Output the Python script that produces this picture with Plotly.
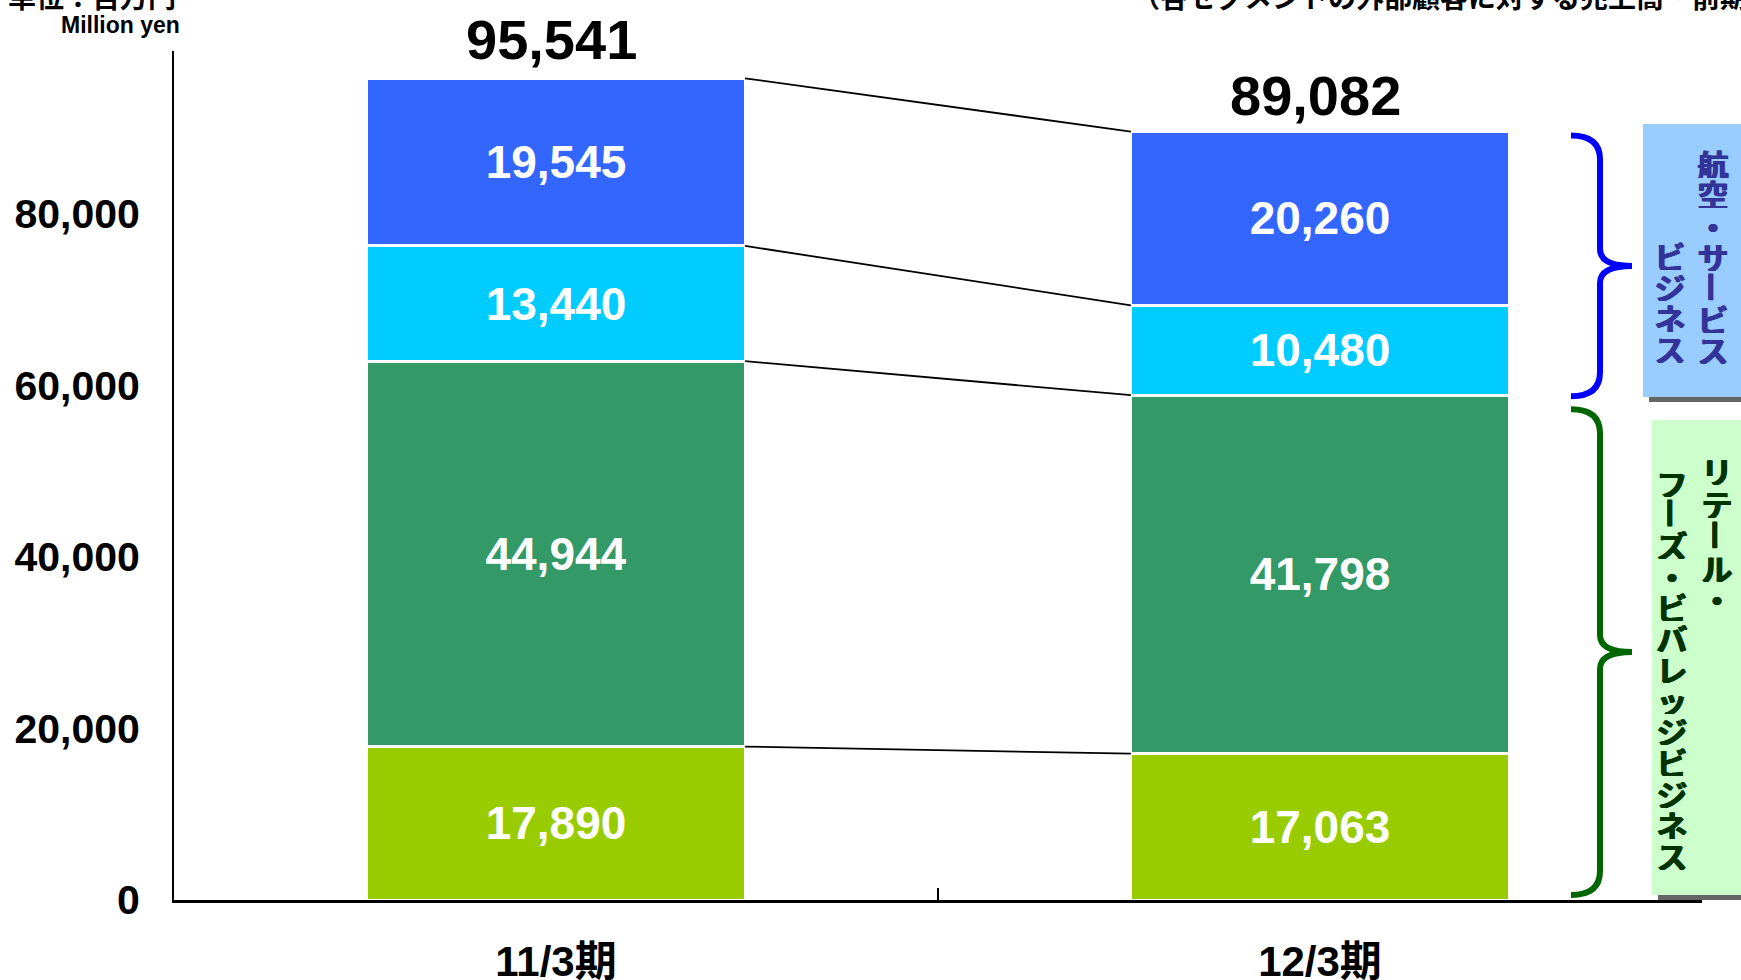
import plotly.graph_objects as go

# data
periods = ["11/3期", "12/3期"]
segment_names = ["フーズ・ビバレッジ", "リテール", "サービス", "航空"]
retail_food = [17890, 17063]
retail = [44944, 41798]
service = [13440, 10480]
airline = [19545, 20260]
totals = [95541, 89082]

colors = ["#99CC00", "#339966", "#00CCFF", "#3366FF"]
series = [retail_food, retail, service, airline]

W, H = 1741, 980
PLOT_L, PLOT_W = 174, 1528
PLOT_T, PLOT_H = 51, 849
Y_MAX = 99000
BAR_W = 0.495


def px_x(p):
    return (p - PLOT_L) / PLOT_W


def px_y(p):
    return (PLOT_T + PLOT_H - p) / PLOT_H


def px_units(p):
    return p * Y_MAX / PLOT_H


NUM_FONT = "Liberation Sans, Arial, Noto Sans CJK JP"
JP_FONT = "Noto Sans CJK JP, Liberation Sans"

fig = go.Figure()

for name, vals, col in zip(segment_names, series, colors):
    fig.add_trace(go.Bar(
        x=[0, 1], y=vals, name=name, width=BAR_W,
        marker=dict(color=col, line=dict(color="white", width=3)),
        text=["{:,}".format(v) for v in vals],
        textposition="inside", insidetextanchor="middle", textangle=0,
        textfont=dict(family=NUM_FONT, size=46, color="white", weight="bold"),
        hoverinfo="name+y",
    ))

# connector lines between stacked boundaries
cum = [[0, 0]]
for vals in series:
    cum.append([cum[-1][0] + vals[0], cum[-1][1] + vals[1]])
for level in cum[1:]:
    fig.add_trace(go.Scatter(
        x=[BAR_W / 2, 1 - BAR_W / 2], y=level, mode="lines",
        line=dict(color="black", width=1.8), hoverinfo="skip",
    ))

annotations = []
for i, t in enumerate(totals):
    annotations.append(dict(x=i, y=t, xref="x", yref="y", text="{:,}".format(t),
                            showarrow=False, yanchor="middle", yshift=41, xshift=-5,
                            font=dict(family=NUM_FONT, size=56, color="black", weight="bold")))

annotations.append(dict(xref="paper", yref="paper", x=px_x(182), y=px_y(25),
                        xanchor="right", yanchor="middle", text="Million yen", showarrow=False,
                        font=dict(family=NUM_FONT, size=23, color="black", weight="bold")))
# header texts, cut at the top edge
annotations.append(dict(xref="paper", yref="paper", x=px_x(178), y=px_y(18),
                        xanchor="right", yanchor="bottom", text="単位：百万円", showarrow=False,
                        font=dict(family=JP_FONT, size=28, color="black", weight="bold")))
annotations.append(dict(xref="paper", yref="paper", x=px_x(1130), y=px_y(18),
                        xanchor="left", yanchor="bottom",
                        text="（各セグメントの外部顧客に対する売上高・前期比較）", showarrow=False,
                        font=dict(family=JP_FONT, size=28, color="black", weight="bold")))

shapes = []


def brace(y_top, y_bot, color):
    x0, xs, xm = px_x(1571), px_x(1600), px_x(1632)
    r1, r2 = px_units(24), px_units(17)
    ym = (y_top + y_bot) / 2
    path = (f"M {x0},{y_top} Q {xs},{y_top} {xs},{y_top - r1} "
            f"L {xs},{ym + r2} Q {xs},{ym} {xm},{ym} "
            f"Q {xs},{ym} {xs},{ym - r2} "
            f"L {xs},{y_bot + r1} Q {xs},{y_bot} {x0},{y_bot}")
    return dict(type="path", xref="paper", yref="y", path=path,
                line=dict(color=color, width=6))


shapes.append(brace(cum[4][1] - px_units(4), cum[2][1] - px_units(1), "#0000FF"))
shapes.append(brace(cum[2][1] - px_units(14), px_units(5), "#006600"))


def label_box(x0, y0, y1, fill, text_color, columns):
    shapes.append(dict(type="rect", xref="paper", yref="paper", layer="above",
                       x0=px_x(x0 + 6), x1=px_x(1760), y0=px_y(y1 + 5), y1=px_y(y0 + 6),
                       fillcolor="#666666", line=dict(width=0)))
    shapes.append(dict(type="rect", xref="paper", yref="paper", layer="above",
                       x0=px_x(x0), x1=px_x(1760), y0=px_y(y1), y1=px_y(y0),
                       fillcolor=fill, line=dict(width=0)))
    for cx, start, pitch, chars in columns:
        for k, ch in enumerate(chars):
            annotations.append(dict(
                xref="paper", yref="paper", x=px_x(cx), y=px_y(start + k * pitch),
                xanchor="center", yanchor="middle", text=ch, showarrow=False,
                width=36, height=29,
                textangle=90 if ch == "ー" else 0,
                font=dict(family=JP_FONT, size=31, color=text_color, weight="bold",
                          shadow=f"0.8px 0 0 {text_color}, -0.8px 0 0 {text_color}")))


label_box(1643, 124, 397, "#99CCFF", "#333399",
          [(1713, 163, 31, "航空・サービス"), (1670, 255, 31, "ビジネス")])
label_box(1652, 420, 895, "#CCFFCC", "#003300",
          [(1717, 471, 32, "リテール・"), (1672, 482, 31.1, "フーズ・ビバレッジビジネス")])

fig.update_layout(
    barmode="stack",
    width=W, height=H,
    margin=dict(l=PLOT_L, r=W - PLOT_L - PLOT_W, t=PLOT_T, b=H - PLOT_T - PLOT_H, autoexpand=False),
    plot_bgcolor="white", paper_bgcolor="white",
    showlegend=False,
    xaxis=dict(
        range=[-0.5, 1.5], tickmode="array", tickvals=[0, 1], ticktext=periods,
        showline=True, linecolor="black", linewidth=2.5, showgrid=False, zeroline=False,
        ticks="", ticklabelstandoff=23,
        tickfont=dict(family=NUM_FONT, size=42, color="black", weight="bold"),
        minor=dict(tickmode="array", tickvals=[0.5], ticks="inside", ticklen=12,
                   tickwidth=1.5, tickcolor="black", showgrid=False),
    ),
    yaxis=dict(
        range=[0, Y_MAX], tickmode="linear", tick0=0, dtick=20000, tickformat=",",
        showline=True, linecolor="black", linewidth=2, showgrid=False, zeroline=False,
        ticks="", ticklabelstandoff=24,
        tickfont=dict(family=NUM_FONT, size=41, color="black", weight="bold"),
    ),
    annotations=annotations,
    shapes=shapes,
)

fig.write_html("out.html", config={"displayModeBar": False},
               post_script="document.body.style.margin='0';")
